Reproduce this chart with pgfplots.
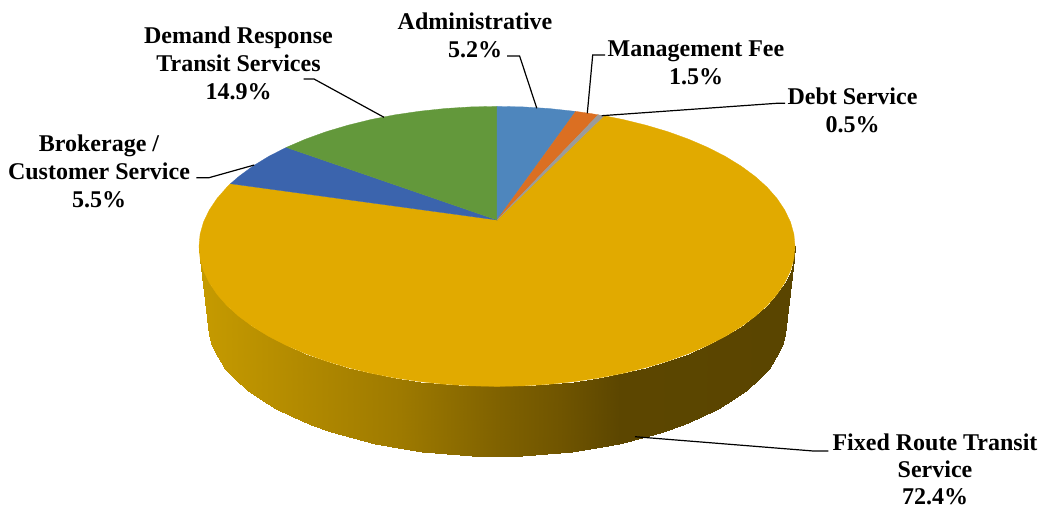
\documentclass[border=0pt]{standalone}
\usepackage{fontspec}
\setmainfont{Liberation Serif}
\usepackage{pgfplots}
\pgfplotsset{compat=1.18}
\definecolor{gold}{RGB}{225,170,0}
\definecolor{grn}{RGB}{99,152,59}
\definecolor{dblue}{RGB}{59,100,173}
\definecolor{lblue}{RGB}{78,134,189}
\definecolor{orng}{RGB}{219,111,34}
\definecolor{gry}{RGB}{155,155,155}
\begin{document}
\begin{tikzpicture}[lbl/.style={font=\fontsize{24}{28}\selectfont\bfseries, align=center, anchor=center, inner sep=0pt}]
\useasboundingbox (0,0) rectangle (1043pt,508pt);
\begin{axis}[
  scale only axis, width=1043pt, height=508pt,
  xmin=0, xmax=1043, ymin=0, ymax=508, y dir=reverse,
  axis lines=none, clip=false,
  colormap={rimshade}{
    rgb255(199pt)=(198,155,0)
    rgb255(300pt)=(178,138,0)
    rgb255(400pt)=(158,122,0)
    rgb255(497pt)=(128,98,0)
    rgb255(560pt)=(112,85,0)
    rgb255(620pt)=(92,70,0)
    rgb255(795pt)=(90,69,0)},
]
% outer rim of the pie, top edge paired with bottom edge
\addplot[surf, shader=interp, point meta=x, point meta min=199, point meta max=795,
         mesh/rows=37, mesh/cols=2] table[x=x, y=y] {
x y
199 246.4
208 323
200.1 258.6
209.1 334.6
203.5 270.7
212.4 346.1
209.2 282.6
217.9 357.4
217 294.3
225.4 368.5
226.9 305.6
235.1 379.2
238.9 316.4
246.7 389.5
252.9 326.7
260.3 399.3
268.7 336.4
275.6 408.5
286.3 345.4
292.6 417
305.4 353.6
311.2 424.9
326.1 361.1
331.2 431.9
348 367.6
352.5 438.2
371.1 373.3
374.9 443.5
395.1 378
398.2 448
419.9 381.6
422.2 451.5
445.3 384.3
446.8 454
471 385.9
471.8 455.5
497 386.4
497 456
523 385.9
522.2 455.5
548.7 384.3
547.2 454
574.1 381.6
571.8 451.5
598.9 378
595.8 448
622.9 373.3
619.1 443.5
646 367.6
641.5 438.2
667.9 361.1
662.8 431.9
688.6 353.6
682.8 424.9
707.7 345.4
701.4 417
725.3 336.4
718.4 408.5
741.1 326.7
733.7 399.3
755.1 316.4
747.3 389.5
767.1 305.6
758.9 379.2
777 294.3
768.6 368.5
784.8 282.6
776.1 357.4
790.5 270.7
781.6 346.1
793.9 258.6
784.9 334.6
795 246.4
786 323
};
% Fixed Route Transit Service
\addplot[fill=gold, draw=gold, line width=0.3pt] coordinates {
(497,220) (604,115.7) (622.9,119.5) (646,125.2) (667.9,131.7) (688.6,139.2) (707.7,147.4)
(725.3,156.4) (741.1,166.1) (755.1,176.4) (767.1,187.2) (777,198.5) (784.8,210.2) (790.5,222.1)
(793.9,234.2) (795,246.4) (793.9,258.6) (790.5,270.7) (784.8,282.6) (777,294.3) (767.1,305.6)
(755.1,316.4) (741.1,326.7) (725.3,336.4) (707.7,345.4) (688.6,353.6) (667.9,361.1) (646,367.6)
(622.9,373.3) (598.9,378) (574.1,381.6) (548.7,384.3) (523,385.9) (497,386.4) (471,385.9)
(445.3,384.3) (419.9,381.6) (395.1,378) (371.1,373.3) (348,367.6) (326.1,361.1) (305.4,353.6)
(286.3,345.4) (268.7,336.4) (252.9,326.7) (238.9,316.4) (226.9,305.6) (217,294.3) (209.2,282.6)
(203.5,270.7) (200.1,258.6) (199,246.4) (200.1,234.2) (203.5,222.1) (209.2,210.2) (217,198.5)
(226.9,187.2) (230.5,183.7) (497,220)} -- cycle;
% Brokerage / Customer Service
\addplot[fill=dblue, draw=dblue, line width=0.3pt] coordinates {
(497,220) (230.5,183.7) (238.9,176.4) (252.9,166.1) (268.7,156.4) (286.3,147.4)} -- cycle;
% Demand Response Transit Services
\addplot[fill=grn, draw=grn, line width=0.3pt] coordinates {
(497,220) (286.3,147.4) (305.4,139.2) (326.1,131.7) (348,125.2) (371.1,119.5) (395.1,114.8)
(419.9,111.2) (445.3,108.5) (471,106.9) (497,106.4)} -- cycle;
% Administrative
\addplot[fill=lblue, draw=lblue, line width=0.3pt] coordinates {
(497,220) (497,106.4) (523,106.9) (548.7,108.5) (575.7,111.4)} -- cycle;
% Management Fee
\addplot[fill=orng, draw=orng, line width=0.3pt] coordinates {
(497,220) (575.7,111.4) (589.1,113.3) (598.3,114.8)} -- cycle;
% Debt Service
\addplot[fill=gry, draw=gry, line width=0.3pt] coordinates {
(497,220) (598.3,114.8) (604,115.7)} -- cycle;
% leader lines
\addplot[black, line width=1.2pt] coordinates {(507,56) (519.6,56) (536.8,108.3)};
\addplot[black, line width=1.2pt] coordinates {(605,55) (592.7,55) (587.3,113.3)};
\addplot[black, line width=1.2pt] coordinates {(785,103.3) (776.7,103.3) (601.7,115.7)};
\addplot[black, line width=1.2pt] coordinates {(828.3,451) (813.3,451) (635,436.7)};
\addplot[black, line width=1.2pt] coordinates {(303.6,79) (314,79) (384,117.3)};
\addplot[black, line width=1.2pt] coordinates {(196.4,177.7) (209,177.7) (254.3,165)};
% labels
\node[lbl] at (axis cs:475,35) {Administrative\\5.2\%};
\node[lbl] at (axis cs:696,63) {Management Fee\\1.5\%};
\node[lbl] at (axis cs:852.5,110) {Debt Service\\0.5\%};
\node[lbl] at (axis cs:238.5,63) {Demand Response\\Transit Services\\14.9\%};
\node[lbl] at (axis cs:99,171) {Brokerage /\\Customer Service\\5.5\%};
\node[lbl, font=\fontsize{24}{27}\selectfont\bfseries] at (axis cs:935,469.5) {Fixed Route Transit\\Service\\72.4\%};
\end{axis}
\end{tikzpicture}
\end{document}
